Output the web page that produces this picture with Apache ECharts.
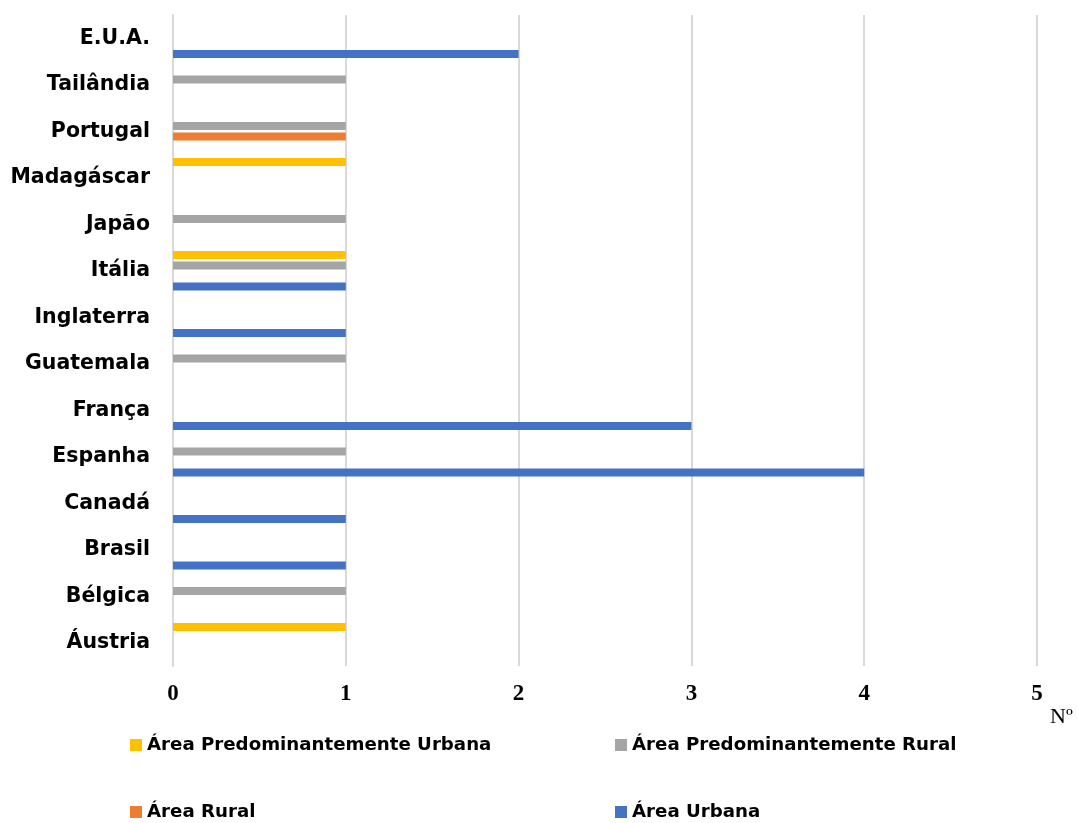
<!DOCTYPE html>
<html>
<head>
<meta charset="utf-8">
<script src="https://cdn.jsdelivr.net/npm/echarts@6/dist/echarts.min.js"></script>
<style>html,body{margin:0;padding:0;background:#fff;}#c{width:1078px;height:823px;}</style>
</head>
<body>
<div id="c"></div>
<script>
const categories = ['Áustria','Bélgica','Brasil','Canadá','Espanha','França','Guatemala','Inglaterra','Itália','Japão','Madagáscar','Portugal','Tailândia','E.U.A.'];
const predUrbana = [1, null, null, null, null, null, null, null, 1, null, 1, null, null, null];
const predRural  = [null, 1, null, null, 1, null, 1, null, 1, 1, null, 1, 1, null];
const rural      = [null, null, null, null, null, null, null, null, null, null, null, 1, null, null];
const urbana     = [null, null, 1, 1, 4, 3, null, 1, 1, null, null, null, null, 2];
const xTicks = [0, 1, 2, 3, 4, 5];

const names = ['Área Predominantemente Urbana','Área Predominantemente Rural','Área Rural','Área Urbana'];
const colors = ['#FFC000','#A5A5A5','#ED7D31','#4472C4'];
const datas = [predUrbana, predRural, rural, urbana];

const chart = echarts.init(document.getElementById('c'));
const legendText = {fontFamily:'DejaVu Sans', fontWeight:'bold', fontSize:18.2, color:'#000'};
const legendPos = [[130,736],[615,736],[130,803],[615,803]];
chart.setOption({
  animation:false,
  grid:{left:173, right:41, top:15, bottom:157},
  xAxis:{type:'value', min:0, max:5, interval:1,
    axisLine:{show:false}, axisTick:{show:false},
    splitLine:{show:true, lineStyle:{color:'#D9D9D9', width:2}},
    axisLabel:{margin:17, fontFamily:'Liberation Serif', fontWeight:'bold', fontSize:23, color:'#000',
      formatter: v => xTicks.includes(v) ? String(v) : ''}
  },
  yAxis:{type:'category', data:categories,
    axisLine:{show:true, lineStyle:{color:'#D9D9D9', width:2}}, axisTick:{show:false},
    axisLabel:{margin:23, fontFamily:'DejaVu Sans', fontWeight:'bold', fontSize:20.5, color:'#000'}
  },
  legend: names.map((n,i)=>({data:[n], left:legendPos[i][0], top:legendPos[i][1], itemWidth:12, itemHeight:12, itemGap:0,
    icon:'rect', textStyle:legendText, padding:0})),
  graphic:[{type:'text', left:1050, top:706, style:{text:'Nº', fontFamily:'Liberation Serif', fontSize:22, fill:'#000'}}],
  series: names.map((n,i)=>({name:n, type:'bar', data:datas[i], barWidth:8, barGap:'31%',
    itemStyle:{color:colors[i]}}))
});
</script>
</body>
</html>
